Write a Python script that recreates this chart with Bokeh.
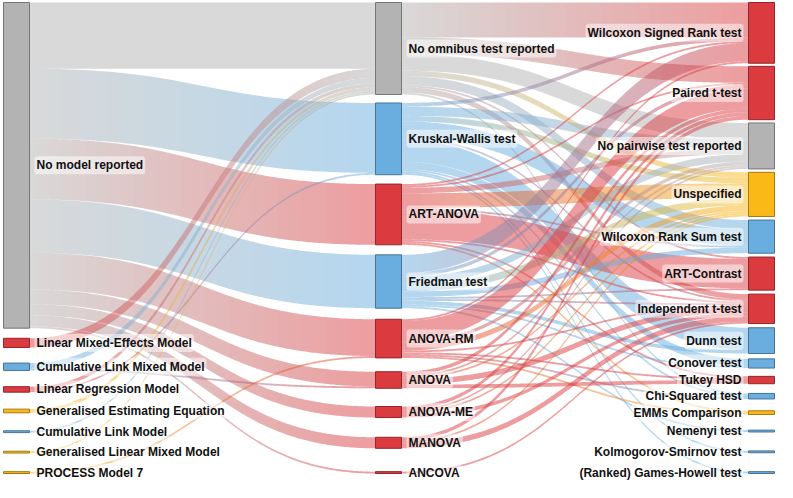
import numpy as np
from bokeh.plotting import figure
from bokeh.models import Range1d, ColumnDataSource
from bokeh.embed import file_html
from bokeh.resources import INLINE
from bokeh.core.properties import value

# ---------------- data ----------------
models = ["No model reported", "Linear Mixed-Effects Model", "Cumulative Link Mixed Model",
          "Linear Regression Model", "Generalised Estimating Equation", "Cumulative Link Model",
          "Generalised Linear Mixed Model", "PROCESS Model 7"]
omnibus = ["No omnibus test reported", "Kruskal-Wallis test", "ART-ANOVA", "Friedman test",
           "ANOVA-RM", "ANOVA", "ANOVA-ME", "MANOVA", "ANCOVA"]
pairwise = ["Wilcoxon Signed Rank test", "Paired t-test", "No pairwise test reported", "Unspecified",
            "Wilcoxon Rank Sum test", "ART-Contrast", "Independent t-test", "Dunn test", "Conover test",
            "Tukey HSD", "Chi-Squared test", "EMMs Comparison", "Nemenyi test",
            "Kolmogorov-Smirnov test", "(Ranked) Games-Howell test"]

# model -> omnibus flows
m2o_source = ["No model reported"] * 9 + [
    "Linear Mixed-Effects Model", "Cumulative Link Mixed Model", "Cumulative Link Mixed Model",
    "Linear Regression Model", "Linear Regression Model", "Generalised Estimating Equation",
    "Cumulative Link Model", "Generalised Linear Mixed Model", "PROCESS Model 7"]
m2o_target = ["No omnibus test reported", "Kruskal-Wallis test", "ART-ANOVA", "Friedman test",
              "ANOVA-RM", "ANOVA", "ANOVA-ME", "MANOVA", "ANCOVA",
              "No omnibus test reported", "No omnibus test reported", "ANOVA",
              "No omnibus test reported", "Kruskal-Wallis test", "No omnibus test reported",
              "No omnibus test reported", "No omnibus test reported", "ANOVA-RM"]
m2o_value = [36, 38, 33, 29, 20, 8, 6, 6, 1,
             5, 3, 1, 2, 1, 2, 1, 1, 1]

# omnibus -> pairwise flows
o2p_source = (["No omnibus test reported"] * 8 + ["Kruskal-Wallis test"] * 10 + ["ART-ANOVA"] * 9
              + ["Friedman test"] * 10 + ["ANOVA-RM"] * 8 + ["ANOVA"] * 5 + ["ANOVA-ME"] * 4
              + ["MANOVA"] * 3 + ["ANCOVA"])
o2p_target = [
    # No omnibus
    "Wilcoxon Signed Rank test", "Paired t-test", "No pairwise test reported", "Unspecified",
    "Wilcoxon Rank Sum test", "ART-Contrast", "Independent t-test", "Chi-Squared test",
    # Kruskal-Wallis
    "Wilcoxon Signed Rank test", "No pairwise test reported", "Unspecified", "Wilcoxon Rank Sum test",
    "Independent t-test", "Dunn test", "Conover test", "Chi-Squared test", "Kolmogorov-Smirnov test",
    "(Ranked) Games-Howell test",
    # ART-ANOVA
    "Wilcoxon Signed Rank test", "Paired t-test", "No pairwise test reported", "Unspecified",
    "Wilcoxon Rank Sum test", "ART-Contrast", "Independent t-test", "Tukey HSD", "EMMs Comparison",
    # Friedman
    "Wilcoxon Signed Rank test", "Paired t-test", "No pairwise test reported", "Unspecified",
    "Wilcoxon Rank Sum test", "ART-Contrast", "Independent t-test", "Dunn test", "Conover test",
    "Nemenyi test",
    # ANOVA-RM
    "Wilcoxon Signed Rank test", "Paired t-test", "No pairwise test reported", "Unspecified",
    "Independent t-test", "Tukey HSD", "Chi-Squared test", "EMMs Comparison",
    # ANOVA
    "Paired t-test", "No pairwise test reported", "Unspecified", "Independent t-test", "Tukey HSD",
    # ANOVA-ME
    "Paired t-test", "No pairwise test reported", "Unspecified", "Independent t-test",
    # MANOVA
    "Paired t-test", "Unspecified", "Independent t-test",
    # ANCOVA
    "Independent t-test"]
o2p_value = [19, 9, 9, 3, 5, 1, 3, 1,
             2, 5, 3, 9, 1, 12, 4, 1, 1, 1,
             1, 1, 3, 8, 1, 16, 1, 1, 1,
             10, 2, 4, 4, 3, 1, 1, 2, 1, 1,
             1, 11, 2, 3, 1, 1, 1, 1,
             2, 1, 1, 3, 2,
             2, 1, 1, 2,
             2, 1, 3,
             1]

# ---------------- styles ----------------
GREY, RED, BLUE, YELLOW = "#b3b3b3", "#db3b3f", "#6aaee0", "#fbb917"
node_color = {
    "No model reported": GREY, "Linear Mixed-Effects Model": RED, "Cumulative Link Mixed Model": BLUE,
    "Linear Regression Model": RED, "Generalised Estimating Equation": YELLOW,
    "Cumulative Link Model": BLUE, "Generalised Linear Mixed Model": YELLOW, "PROCESS Model 7": YELLOW,
    "No omnibus test reported": GREY, "Kruskal-Wallis test": BLUE, "ART-ANOVA": RED,
    "Friedman test": BLUE, "ANOVA-RM": RED, "ANOVA": RED, "ANOVA-ME": RED, "MANOVA": RED, "ANCOVA": RED,
    "Wilcoxon Signed Rank test": RED, "Paired t-test": RED, "No pairwise test reported": GREY,
    "Unspecified": YELLOW, "Wilcoxon Rank Sum test": BLUE, "ART-Contrast": RED,
    "Independent t-test": RED, "Dunn test": BLUE, "Conover test": BLUE, "Tukey HSD": RED,
    "Chi-Squared test": BLUE, "EMMs Comparison": YELLOW, "Nemenyi test": BLUE,
    "Kolmogorov-Smirnov test": BLUE, "(Ranked) Games-Howell test": BLUE,
}

W, H = 777, 482
NODE_W = 26
COL_X = [3, 375, 748]
TOP, BOTTOM = 2, 473
SCALE = 1.84
GAP_PARAMS = [(8, 10, 0.5), (0, 10, 0.5), (2, 4, 1.0)]  # (min gap, c, power)


def hex2rgb(h):
    h = h.lstrip("#")
    return np.array([int(h[i:i + 2], 16) for i in (0, 2, 4)], dtype=float)


def rgb2hex(c):
    c = np.clip(np.round(c), 0, 255).astype(int)
    return "#%02x%02x%02x" % tuple(c)


def darker(h, f=0.66):
    return rgb2hex(hex2rgb(h) * f)


columns = [models, omnibus, pairwise]
links = ([(s, t, v) for s, t, v in zip(m2o_source, m2o_target, m2o_value)]
         + [(s, t, v) for s, t, v in zip(o2p_source, o2p_target, o2p_value)])

inflow, outflow = {}, {}
for s, t, v in links:
    outflow[s] = outflow.get(s, 0) + v
    inflow[t] = inflow.get(t, 0) + v

node = {}
for ci, col in enumerate(columns):
    hs = [max(inflow.get(n, 0), outflow.get(n, 0)) * SCALE for n in col]
    free = (BOTTOM - TOP) - sum(hs)
    ng = len(col) - 1
    gmin, c, pw = GAP_PARAMS[ci]
    w = [(hs[i] + hs[i + 1] + c) ** (-pw) for i in range(ng)]
    gaps = [gmin + (free - ng * gmin) * wi / sum(w) for wi in w]
    y = float(TOP)
    for i, n in enumerate(col):
        node[n] = dict(col=ci, x0=COL_X[ci], x1=COL_X[ci] + NODE_W, y0=y, y1=y + hs[i])
        if i < ng:
            y += hs[i] + gaps[i]

# link stacking
out_links, in_links = {}, {}
for li, (s, t, v) in enumerate(links):
    out_links.setdefault(s, []).append(li)
    in_links.setdefault(t, []).append(li)
sy, ty = {}, {}
for n, lis in out_links.items():
    lis = sorted(lis, key=lambda li: (node[links[li][1]]["y0"], li))
    y = node[n]["y0"]
    for li in lis:
        sy[li] = y
        y += links[li][2] * SCALE
for n, lis in in_links.items():
    lis = sorted(lis, key=lambda li: (node[links[li][0]]["y0"], li))
    y = node[n]["y0"]
    for li in lis:
        ty[li] = y
        y += links[li][2] * SCALE

# bezier inversion tables
tt = np.linspace(0, 1, 801)
xf = 1.5 * tt * (1 - tt) + tt ** 3
yf = 3 * tt ** 2 - 2 * tt ** 3

xs_all, ys_all, col_all = [], [], []
STEP = 12
for li, (s, t, v) in enumerate(links):
    x0 = node[s]["x1"]
    x1 = node[t]["x0"]
    wdt = v * SCALE
    c0, c1 = hex2rgb(node_color[s]), hex2rgb(node_color[t])
    inner = [k * STEP + 0.5 for k in range(int(x0 // STEP) + 1, int(x1 // STEP) + 1)]
    bounds = sorted(set([x0] + [b for b in inner if x0 + 2 < b < x1 - 2] + [x1]))
    for a, b in zip(bounds[:-1], bounds[1:]):
        m = max(2, int((b - a) / 2) + 1)
        xx = np.linspace(a, b, m)
        u = (xx - x0) / (x1 - x0)
        tv = np.interp(u, xf, tt)
        yy = np.interp(tv, tt, yf)
        top = sy[li] + (ty[li] - sy[li]) * yy
        bot = top + wdt
        xs_all.append(list(xx) + list(xx[::-1]))
        ys_all.append(list(top) + list(bot[::-1]))
        um = ((a + b) / 2 - x0) / (x1 - x0)
        col_all.append(rgb2hex(c0 + (c1 - c0) * um))

p = figure(width=W, height=H, x_range=Range1d(0, W), y_range=Range1d(H, 0),
           output_backend="svg", toolbar_location=None, min_border=0,
           x_axis_location=None, y_axis_location=None)
p.grid.visible = False
p.outline_line_color = None
p.background_fill_color = "white"

p.patches(xs="xs", ys="ys", fill_color="c", fill_alpha=0.5, line_color=None,
          source=ColumnDataSource(dict(xs=xs_all, ys=ys_all, c=col_all)))

names = [n for col in columns for n in col]
p.quad(left=[node[n]["x0"] for n in names], right=[node[n]["x1"] for n in names],
       top=[node[n]["y0"] for n in names], bottom=[node[n]["y1"] for n in names],
       fill_color=[node_color[n] for n in names],
       line_color=[darker(node_color[n]) for n in names], line_width=1)

lab_l = [n for n in names if node[n]["col"] < 2]
lab_r = [n for n in names if node[n]["col"] == 2]
common = dict(text_baseline="middle", text_font=value("Liberation Sans"), text_font_size="12px",
              text_font_style="bold", text_color="#111111",
              background_fill_color="white", background_fill_alpha=0.5,
              border_radius=3, padding=2)
p.text(x=[node[n]["x1"] + 5 for n in lab_l], y=[(node[n]["y0"] + node[n]["y1"]) / 2 for n in lab_l],
       text=lab_l, text_align="left", **common)
p.text(x=[node[n]["x0"] - 5 for n in lab_r], y=[(node[n]["y0"] + node[n]["y1"]) / 2 for n in lab_r],
       text=lab_r, text_align="right", **common)

open("out.html", "w").write(file_html(p, INLINE))
